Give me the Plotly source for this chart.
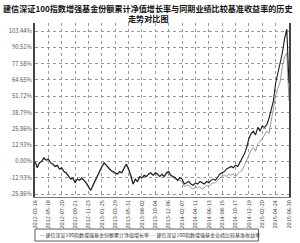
import plotly.graph_objects as go

# ---- data ----
fund = [0, -5, -1, 0, 3, 1, 2, -1, -2, -4, -3, -6, -5, -8, -9, -12, -14, -13, -17, -14,
        -15, -13, -15, -17, -20, -23, -19, -15, -11, -8, -4, -1, -3, -5, -7, -8, -9, -10, -8, -9,
        -5, -2, -6, -11, -18, -14, -16, -12, -13, -11, -12, -10, -9, -11, -9, -10, -12, -10, -12, -9,
        -8, -11, -12, -13, -15, -13, -14, -18, -17, -16, -18, -19, -17, -18, -16, -17, -18, -16, -17, -15,
        -14, -15, -12, -10, -9, -8, -6, -5, -4, -5, -3, -4, -1, 2, 6, 11, 18, 22, 24, 21,
        27, 24, 28, 27, 29, 34, 40, 48, 62, 70, 76, 86, 97, 105, 62]
bench = [0, -4, -1, 0, 2, 1, 1, -1, -3, -4, -4, -6, -6, -8, -10, -12, -14, -14, -16, -14,
         -15, -14, -15, -18, -21, -23, -20, -16, -12, -9, -5, -2, -3, -6, -7, -9, -10, -10, -9, -9,
         -6, -3, -7, -12, -18, -15, -16, -13, -13, -12, -12, -10, -10, -11, -10, -11, -12, -11, -12, -10,
         -9, -12, -13, -14, -15, -15, -16, -20, -19, -19, -21, -22, -20, -21, -20, -22, -21, -19, -20, -18,
         -17, -17, -15, -13, -12, -11, -12, -10, -11, -10, -12, -10, -8, -7, -3, 1, 4, 9, 11, 8,
         14, 16, 18, 21, 24, 22, 32, 43, 52, 58, 63, 75, 83, 86, 48]
tick_labels = ["2012-03-16", "2012-05-18", "2012-07-20", "2012-09-21", "2012-11-23",
               "2013-01-25", "2013-03-29", "2013-05-31", "2013-08-02", "2013-10-04",
               "2013-12-06", "2014-02-07", "2014-04-11", "2014-06-13", "2014-08-15",
               "2014-10-17", "2014-12-19", "2015-02-20", "2015-04-24", "2015-06-30"]
y_ticks = [-25.86, -12.93, 0.00, 12.93, 25.86, 38.79, 51.72, 64.65, 77.58, 90.51, 103.44]
name_fund = "建信深证100指数增强基金份额累计净值增长率"
name_bench = "建信深证100指数增强基金业绩比较基准收益率"
title_line1 = "建信深证100指数增强基金份额累计净值增长率与同期业绩比较基准收益率的历史"
title_line2 = "走势对比图"

FONT = "Noto Sans CJK SC"
x = list(range(len(fund)))
step = (len(fund) - 1) // (len(tick_labels) - 1)
tick_pos = [x[i * step] for i in range(len(tick_labels))]

fig = go.Figure()
fig.add_trace(go.Scatter(x=x, y=bench, mode="lines", name=name_bench,
                         line=dict(color="#8c8c8c", width=0.9)))
fig.add_trace(go.Scatter(x=x, y=fund, mode="lines", name=name_fund,
                         line=dict(color="#1a1a1a", width=1.1)))

fig.update_layout(
    width=300, height=243,
    margin=dict(l=35, r=7, t=23, b=46),
    paper_bgcolor="white", plot_bgcolor="white",
    showlegend=False,
    font=dict(family=FONT, color="#444"),
)
fig.update_xaxes(range=[0, len(fund) - 1], tickmode="array", tickvals=tick_pos,
                 ticktext=tick_labels, tickangle=-90, tickfont=dict(size=5.5, color="#444"),
                 showgrid=True, gridcolor="#999", griddash="dot", gridwidth=0.8,
                 showline=True, linecolor="#777", linewidth=1, ticks="", zeroline=False)
fig.update_yaxes(range=[-28.24, 109.8], tickmode="array", tickvals=y_ticks,
                 ticktext=[f"{v:.2f}%" for v in y_ticks], tickfont=dict(size=5.8, color="#555"),
                 showgrid=True, gridcolor="#999", griddash="dot", gridwidth=0.8,
                 showline=True, linecolor="#444", linewidth=2, mirror=True,
                 ticks="", zeroline=False)

# title as two centred lines
fig.add_annotation(xref="paper", yref="paper", x=0.446, y=1.086, xanchor="center", yanchor="middle",
                   text="<b>" + title_line1 + "</b>", showarrow=False,
                   font=dict(size=8.1, color="#111", family=FONT))
fig.add_annotation(xref="paper", yref="paper", x=0.446, y=1.023, xanchor="center", yanchor="middle",
                   text="<b>" + title_line2 + "</b>", showarrow=False,
                   font=dict(size=8.1, color="#111", family=FONT))

# legend drawn as a boxed row below the chart
fig.add_shape(type="rect", xref="paper", yref="paper", x0=0.0, x1=0.88,
              y0=-0.184, y1=-0.253, line=dict(color="#333", width=0.8))
fig.add_annotation(xref="paper", yref="paper", x=0.01, y=-0.218, xanchor="left", yanchor="middle",
                   text="<span style='color:#1a1a1a'>—</span> " + name_fund,
                   showarrow=False, font=dict(size=5, color="#333", family=FONT))
fig.add_annotation(xref="paper", yref="paper", x=0.45, y=-0.218, xanchor="left", yanchor="middle",
                   text="<span style='color:#8c8c8c'>—</span> " + name_bench,
                   showarrow=False, font=dict(size=5, color="#333", family=FONT))

fig.write_html("out.html")
